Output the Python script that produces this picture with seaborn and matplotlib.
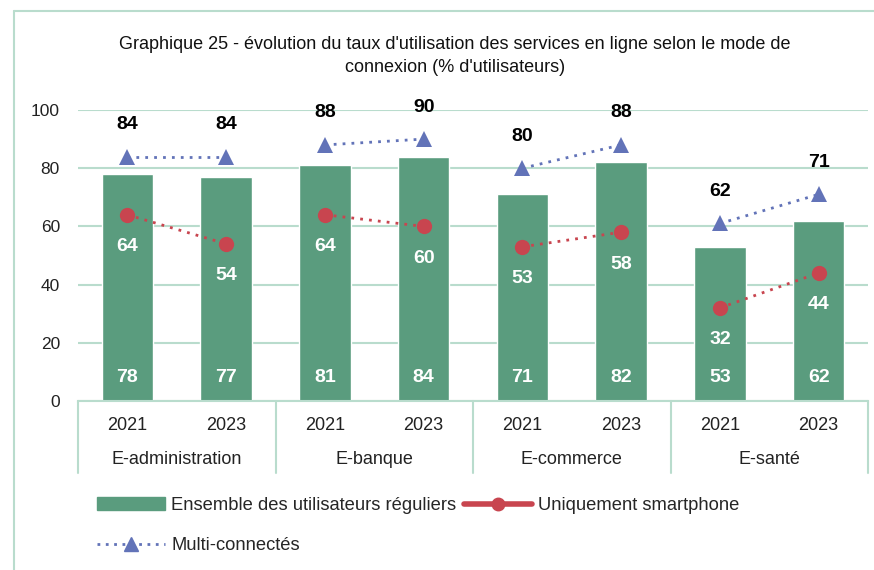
import numpy as np
import pandas as pd
import matplotlib.pyplot as plt
import seaborn as sns
from matplotlib.lines import Line2D
from matplotlib.patches import Patch

groups = ["E-administration", "E-banque", "E-commerce", "E-santé"]
years = ["2021", "2023"]
ensemble = [78, 77, 81, 84, 71, 82, 53, 62]
smartphone = [64, 54, 64, 60, 53, 58, 32, 44]
multi = [84, 84, 88, 90, 80, 88, 62, 71]
multi_pos = [84, 84, 88, 90, 80, 88, 61, 71]

title = ("Graphique 25 - évolution du taux d'utilisation des services en ligne selon le mode de\n"
         "connexion (% d'utilisateurs)")

GREEN = "#5a9c7e"
RED = "#c8454f"
BLUE = "#6273b8"
GRID = "#b9dccd"

sns.set_theme(style="white")
plt.rcParams["font.family"] = ["Liberation Sans", "DejaVu Sans"]

keys = [f"{g}|{y}" for g in groups for y in years]
df = pd.DataFrame({"key": keys, "ensemble": ensemble})

fig = plt.figure(figsize=(8.74, 5.70), dpi=100)
W, H = 874, 570
ax = fig.add_axes([78 / W, 1 - 401 / H, 790 / W, 291 / H])

sns.barplot(data=df, x="key", y="ensemble", order=keys, color=GREEN,
            width=0.52, saturation=1, ax=ax, zorder=2)

x = np.arange(len(keys))
for i in range(0, len(keys), 2):
    ax.plot(x[i:i + 2], smartphone[i:i + 2], color=RED, ls=(0, (1, 2.2)), lw=2,
            marker="o", ms=11, markeredgewidth=0, zorder=3)
    ax.plot(x[i:i + 2], multi_pos[i:i + 2], color=BLUE, ls=(0, (1, 2.2)), lw=2,
            marker="^", ms=12, markeredgewidth=0, zorder=3)

for xi, v in zip(x, ensemble):
    ax.text(xi, 8, str(v), ha="center", va="center", color="white",
            fontsize=14, fontweight="bold", zorder=4)
for xi, v in zip(x, smartphone):
    ax.text(xi, v - 11, str(v), ha="center", va="center", color="white",
            fontsize=14, fontweight="bold", zorder=4)
for xi, v, p in zip(x, multi, multi_pos):
    ax.text(xi, p + 11, str(v), ha="center", va="center", color="black",
            fontsize=14, fontweight="bold", zorder=4)

ax.set_xlim(-0.5, len(keys) - 0.5)
ax.set_ylim(0, 100)
ax.set_yticks(range(0, 101, 20))
ax.yaxis.grid(True, color=GRID, lw=1.5, zorder=0)
ax.set_axisbelow(True)
for s in ["top", "right", "left"]:
    ax.spines[s].set_visible(False)
ax.spines["bottom"].set_color(GRID)
ax.spines["bottom"].set_linewidth(1.5)
ax.tick_params(axis="y", length=0, pad=13, labelsize=12.5, labelcolor="#222222")
ax.tick_params(axis="x", length=0)
ax.set_xticklabels([])
ax.set_xlabel("")
ax.set_ylabel("")

# category table under the axis
trans = ax.get_xaxis_transform()
for b in np.arange(-0.5, len(keys), 2):
    ax.plot([b, b], [0, -72 / 291], color=GRID, lw=1.5, transform=trans,
            clip_on=False)
for xi, k in zip(x, keys):
    ax.text(xi, -24 / 291, k.split("|")[1], ha="center", va="center",
            fontsize=13, color="#222222", transform=trans)
for gi, g in enumerate(groups):
    ax.text(2 * gi + 0.5, -59 / 291, g, ha="center", va="center",
            fontsize=13, color="#222222", transform=trans)

fig.text(455 / W, 1 - 56 / H, title, ha="center", va="center", fontsize=13,
         color="#111111", linespacing=1.45)

# frame of the original chart box
fig.add_artist(Line2D([14 / W, 14 / W], [0, 1 - 11 / H], color=GRID, lw=1.5))
fig.add_artist(Line2D([14 / W, 1], [1 - 11 / H, 1 - 11 / H], color=GRID, lw=1.5))

handles = [
    Patch(facecolor=GREEN, edgecolor=GREEN, label="Ensemble des utilisateurs réguliers"),
    Line2D([], [], color=BLUE, lw=2, ls=(0, (1, 2)), marker="^", ms=10,
           label="Multi-connectés"),
    Line2D([], [], color=RED, lw=4, marker="o", ms=9, label="Uniquement smartphone"),
]
fig.legend(handles=handles, loc="upper left", bbox_to_anchor=(97 / W, 1 - 497 / H),
           ncol=2, frameon=False, prop={"size": 13.2},
           handlelength=3.7, handletextpad=0.35, columnspacing=0.4,
           labelspacing=1.25, borderaxespad=0, borderpad=0)

fig.savefig("out.png", dpi=100)
